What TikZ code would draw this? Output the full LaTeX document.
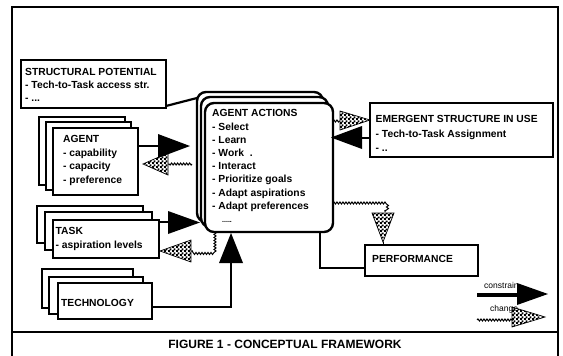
\documentclass[tikz,border=0pt]{standalone}
\usepackage{fontspec}
\setmainfont{Liberation Sans}
\usetikzlibrary{patterns,decorations.pathmorphing}
\pgfdeclarepatternformonly{finecheck}{\pgfpointorigin}{\pgfpoint{4pt}{4pt}}{\pgfpoint{4pt}{4pt}}{%
 \pgfpathrectangle{\pgfpointorigin}{\pgfpoint{2.2pt}{2.2pt}}%
 \pgfpathrectangle{\pgfpoint{2pt}{2pt}}{\pgfpoint{2.2pt}{2.2pt}}%
 \pgfusepath{fill}}
\begin{document}
\begin{tikzpicture}[x=1pt,y=-1pt,
  box/.style={draw, line width=1.8pt, fill=white, inner sep=0pt, outer sep=0pt, anchor=north west},
  actbox/.style={box, line width=2.4pt, rounded corners=9pt},
  txt/.style={font=\fontsize{10.3}{13.2}\selectfont\bfseries, align=left, inner sep=0pt, anchor=north west},
  small/.style={font=\fontsize{8.5}{10}\selectfont, inner sep=0pt, anchor=west},
  conn/.style={line width=2.2pt},
  chg/.style={line width=1pt, decorate, decoration={snake, amplitude=1pt, segment length=3pt}},
  solidtri/.style={fill=black},
  checktri/.style={pattern=finecheck, draw=black, line width=0.7pt}
]
\useasboundingbox (0,0) rectangle (563,356);
\fill[white] (0,0) rectangle (563,356);

% frame
\draw[line width=2pt] (12,356) -- (12,7) -- (558,7) -- (558,356);
\draw[line width=2pt] (12,332) -- (558,332);
\node[font=\fontsize{12}{14}\selectfont\bfseries, inner sep=0pt] (cap) at (285,344) {FIGURE 1 - CONCEPTUAL FRAMEWORK};

% structural potential
\node[box, minimum width=145pt, minimum height=48pt] (sp) at (21,60) {};
\node[txt, font=\fontsize{10.3}{13}\selectfont\bfseries] (spt) at (25,68.5) {STRUCTURAL POTENTIAL\\- Tech-to-Task access str.\\- ...};

% agent actions stack
\node[actbox, minimum width=126pt, minimum height=130pt] (actB) at (197,92) {};
\node[actbox, minimum width=127pt, minimum height=130pt] (actM) at (201,97) {};
\node[actbox, minimum width=128pt, minimum height=129pt] (actF) at (205,103) {};
\node[txt] (actt) at (212,109.5) {AGENT ACTIONS\\- Select\\- Learn\\- Work~~.\\- Interact\\- Prioritize goals\\- Adapt aspirations\\- Adapt preferences};
\node[font=\fontsize{7}{8}\selectfont\bfseries, inner sep=0pt, anchor=west] (actd) at (222,222) {.....};

% connector structural potential -> actions
\coordinate (spend) at (197,98);
\draw[conn] (sp.east |- 0,106) -- (spend);

% agent stack
\node[box, minimum width=86pt, minimum height=68pt] (agB) at (39,117) {};
\node[box, minimum width=85pt, minimum height=68pt] (agM) at (46,122) {};
\node[box, minimum width=85pt, minimum height=67pt] (agF) at (53,128) {};
\node[txt, font=\fontsize{10.3}{13.5}\selectfont\bfseries] (agt) at (63,135.5) {AGENT\\- capability\\- capacity\\- preference};

% task stack
\node[box, minimum width=106pt, minimum height=37pt] (tkB) at (37,206) {};
\node[box, minimum width=107pt, minimum height=38pt] (tkM) at (45,212) {};
\node[box, minimum width=106pt, minimum height=38pt] (tkF) at (53,220) {};
\node[txt, font=\fontsize{10.3}{14}\selectfont\bfseries] (tkt) at (55.5,227.5) {TASK\\- aspiration levels};

% technology stack
\node[box, minimum width=91pt, minimum height=39pt] (teB) at (42,269) {};
\node[box, minimum width=94pt, minimum height=37pt] (teM) at (49,277) {};
\node[box, minimum width=94pt, minimum height=36pt] (teF) at (58,283) {};
\node[txt] (tet) at (61,299.5) {TECHNOLOGY};

% emergent structure
\node[box, minimum width=183pt, minimum height=54pt] (em) at (370,103) {};
\node[txt, font=\fontsize{10.3}{14.5}\selectfont\bfseries] (emt) at (375.5,115.5) {EMERGENT STRUCTURE IN USE\\- Tech-to-Task Assignment\\- ..};

% performance
\node[box, minimum width=113pt, minimum height=31pt] (pf) at (365,245) {};
\node[txt] (pft) at (372,255.5) {PERFORMANCE};

% 1 agent -> actions (constrain)
\coordinate (a1) at (158,146);
\draw[conn] (agF.east |- a1) -- (a1);
\fill[solidtri] (158,134) -- (190,146) -- (158,158) -- cycle;

% 2 actions -> agent (change)
\coordinate (a2) at (168,164);
\draw[chg] (actB.west |- 0,164) ++(-5,0) -- (a2);
\filldraw[checktri] (168,153) -- (143,164) -- (168,175) -- cycle;

% 3 task -> actions
\coordinate (a3) at (168,222);
\draw[conn] (tkF.east |- a3) -- (a3);
\fill[solidtri] (168,211) -- (200,222.5) -- (168,234) -- cycle;

% 4 actions -> task (change)
\coordinate (a4) at (191,251);
\draw[chg] (215,232) -- (215,251) -- (a4);
\filldraw[checktri] (191,240) -- (160,251) -- (191,262) -- cycle;

% 5 technology -> actions
\coordinate (a5) at (231,263);
\draw[conn] (teF.east |- 0,307) -| (a5);
\fill[solidtri] (219,263) -- (231,233) -- (243,263) -- cycle;

% 6 actions -> performance
\draw[conn] (actF.south -| 320,0) -- (320,268) -- (pf.west |- 0,268);

% 7 actions -> performance (change)
\coordinate (a7) at (385,212);
\draw[chg] (actF.east |- 0,203) -- (385,203) -- (a7);
\filldraw[checktri] (372,213) -- (383,242) -- (394,213) -- cycle;
\draw[line width=1pt] (383,242) -- (pf.north -| 383,0);

% 9 actions -> emergent (change)
\coordinate (a9) at (340,121);
\draw[chg] (actF.east |- a9) -- (a9);
\filldraw[checktri] (340,111) -- (370,120) -- (340,130) -- cycle;

% 8 emergent -> actions
\coordinate (a8) at (362,138);
\draw[conn] (em.west |- a8) -- (a8);
\fill[solidtri] (362,126) -- (331,137.5) -- (362,149) -- cycle;

% legend
\node[small] (lc) at (484,285) {constrain};
\coordinate (l1a) at (477,295);
\coordinate (l1b) at (518,295);
\draw[line width=3.5pt] (l1a) -- (l1b);
\fill[solidtri] (517,283) -- (548,294) -- (517,305) -- cycle;
\node[small] (lch) at (490,309) {change};
\coordinate (l2a) at (477,320);
\coordinate (l2b) at (513,320);
\draw[chg] (l2a) -- (l2b);
\filldraw[checktri] (512,307) -- (545,317) -- (512,327) -- cycle;
\end{tikzpicture}
\end{document}
